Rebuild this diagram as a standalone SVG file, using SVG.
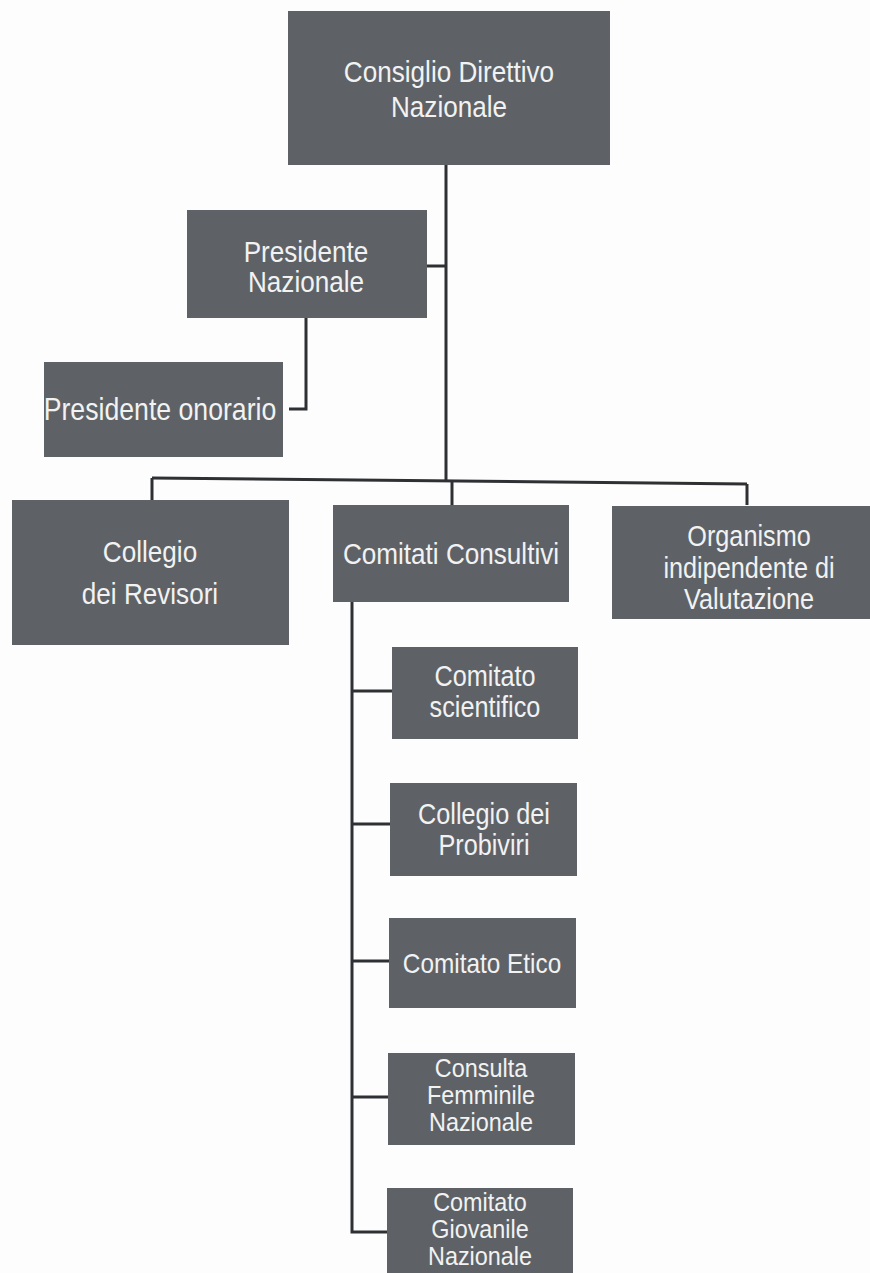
<svg xmlns="http://www.w3.org/2000/svg" width="870" height="1273" viewBox="0 0 870 1273">
<style>
.box{fill:#5e6267}
.t{fill:#f2f2f2;font-family:"Liberation Sans",Arial,sans-serif;text-anchor:middle;font-size:30px}
.s{font-size:26px}
.ln{stroke:#2e3033;stroke-width:3;fill:none}
</style>
<rect width="870" height="1273" fill="#fdfdfd"/>
<g id="connectors">
<line class="ln" x1="446" y1="165" x2="446" y2="481"/>
<line class="ln" x1="427" y1="266" x2="446" y2="266"/>
<polyline class="ln" points="306,318 306,409 289,409"/>
<line class="ln" x1="152" y1="478" x2="747" y2="484"/>
<line class="ln" x1="152" y1="478" x2="152" y2="500"/>
<line class="ln" x1="452" y1="481" x2="452" y2="505"/>
<line class="ln" x1="747" y1="484" x2="747" y2="505"/>
<polyline class="ln" points="352,602 352,1232 387,1232"/>
<line class="ln" x1="352" y1="691" x2="392" y2="691"/>
<line class="ln" x1="352" y1="824" x2="390" y2="824"/>
<line class="ln" x1="352" y1="961" x2="389" y2="961"/>
<line class="ln" x1="352" y1="1097" x2="388" y2="1097"/>
</g>
<g id="consiglio">
<rect class="box" x="288" y="11" width="322" height="154"/>
<g transform="translate(449,0) scale(0.87,1)">
<text class="t" x="0" y="82">Consiglio Direttivo</text>
<text class="t" x="0" y="117">Nazionale</text>
</g>
</g>
<g id="presidente">
<rect class="box" x="187" y="210" width="240" height="108"/>
<g transform="translate(306,0) scale(0.87,1)">
<text class="t" x="0" y="262">Presidente</text>
<text class="t" x="0" y="292">Nazionale</text>
</g>
</g>
<g id="onorario">
<rect class="box" x="44" y="362" width="239" height="95"/>
<g transform="translate(160,0) scale(0.86,1)">
<text class="t" x="0" y="420" style="font-size:31px">Presidente onorario</text>
</g>
</g>
<g id="revisori">
<rect class="box" x="12" y="500" width="277" height="145"/>
<g transform="translate(150,0) scale(0.87,1)">
<text class="t" x="0" y="562">Collegio</text>
<text class="t" x="0" y="604">dei Revisori</text>
</g>
</g>
<g id="consultivi">
<rect class="box" x="333" y="505" width="236" height="97"/>
<g transform="translate(451,0) scale(0.87,1)">
<text class="t" x="0" y="564">Comitati Consultivi</text>
</g>
</g>
<g id="organismo">
<rect class="box" x="612" y="506" width="266" height="113"/>
<g transform="translate(749,0) scale(0.87,1)">
<text class="t" x="0" y="546" style="font-size:29px">Organismo</text>
<text class="t" x="0" y="578" style="font-size:29px">indipendente di</text>
<text class="t" x="0" y="609" style="font-size:29px">Valutazione</text>
</g>
</g>
<g id="scientifico">
<rect class="box" x="392" y="647" width="186" height="92"/>
<g transform="translate(485,0) scale(0.87,1)">
<text class="t" x="0" y="686" style="font-size:29px">Comitato</text>
<text class="t" x="0" y="717" style="font-size:29px">scientifico</text>
</g>
</g>
<g id="probiviri">
<rect class="box" x="390" y="783" width="187" height="93"/>
<g transform="translate(484,0) scale(0.87,1)">
<text class="t" x="0" y="824" style="font-size:29px">Collegio dei</text>
<text class="t" x="0" y="855" style="font-size:29px">Probiviri</text>
</g>
</g>
<g id="etico">
<rect class="box" x="389" y="918" width="187" height="90"/>
<g transform="translate(482,0) scale(0.87,1)">
<text class="t" x="0" y="973" style="font-size:28px">Comitato Etico</text>
</g>
</g>
<g id="femminile">
<rect class="box" x="388" y="1053" width="187" height="92"/>
<g transform="translate(481,0) scale(0.9,1)">
<text class="t s" x="0" y="1077">Consulta</text>
<text class="t s" x="0" y="1104">Femminile</text>
<text class="t s" x="0" y="1131">Nazionale</text>
</g>
</g>
<g id="giovanile">
<rect class="box" x="387" y="1188" width="186" height="90"/>
<g transform="translate(480,0) scale(0.9,1)">
<text class="t s" x="0" y="1211">Comitato</text>
<text class="t s" x="0" y="1238">Giovanile</text>
<text class="t s" x="0" y="1265">Nazionale</text>
</g>
</g>
</svg>
